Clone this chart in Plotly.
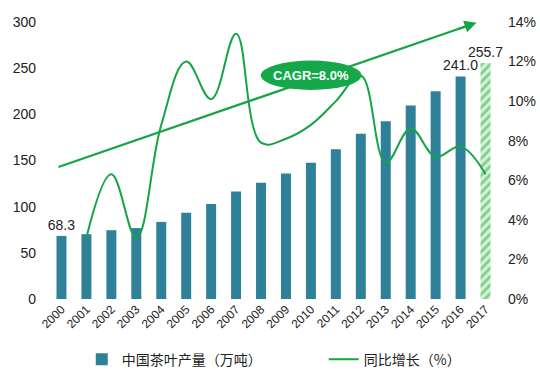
import plotly.graph_objects as go

years = [str(y) for y in range(2000, 2018)]
production = [68.3, 70.2, 74.5, 76.8, 83.5, 93.5, 102.8, 116.5, 125.8, 135.9,
              147.5, 162.3, 179.0, 192.4, 209.6, 224.9, 241.0, 255.7]
growth_years = years[1:]
growth = [3.1, 6.3, 3.1, 8.8, 12.0, 10.1, 13.4, 7.9, 8.1, 8.8, 10.0, 11.3,
          6.9, 8.6, 7.2, 7.7, 6.3]
label_years = {"2000", "2016", "2017"}

BAR = "#2f8199"
GREEN = "#17a446"
FONT = "Liberation Sans, Arial, sans-serif"

fig = go.Figure()

fig.add_trace(go.Bar(
    x=years[:-1], y=production[:-1], name="中国茶叶产量（万吨）", legend="legend",
    marker=dict(color=BAR, line=dict(width=0)), width=0.4,
    text=[f"{v:.1f}" if y in label_years else "" for y, v in zip(years[:-1], production[:-1])],
    textposition="outside", constraintext="none", textangle=0,
    textfont=dict(size=14, color="#222", family=FONT),
    cliponaxis=False,
))
fig.add_trace(go.Bar(
    x=years[-1:], y=production[-1:], showlegend=False,
    marker=dict(color="#c8ecc8", line=dict(width=0),
                pattern=dict(shape="/", fgcolor="#23a84a", bgcolor="#d5f2d5",
                             size=6, solidity=0.45)),
    width=0.4,
    text=[f"{v:.1f}" for v in production[-1:]],
    textposition="outside", constraintext="none", textangle=0,
    textfont=dict(size=14, color="#222", family=FONT),
    cliponaxis=False,
))
fig.add_trace(go.Scatter(
    x=growth_years, y=growth, name="同比增长（%）", yaxis="y2", legend="legend2",
    mode="lines", line=dict(color=GREEN, width=2, shape="spline", smoothing=1.1),
))

# trend arrow (line + arrowhead) and CAGR ellipse
x0t, y0t, x1t, y1t = -0.12, 143, 16.64, 299.3
slope = (y1t - y0t) / (x1t - x0t)
fig.add_shape(type="line", xref="x", yref="y", x0=x0t, y0=y0t, x1=x1t - 0.3, y1=y1t - 0.3 * slope,
              line=dict(color=GREEN, width=2.2), layer="above")
fig.add_shape(type="circle", xref="x", yref="y", x0=7.99, x1=12.03, y0=226.4, y1=258.2,
              fillcolor="#14a84b", line=dict(width=0), layer="above")
fig.add_annotation(x=x1t, y=y1t, ax=x1t - 0.8, ay=y1t - 0.8 * slope, xref="x", yref="y",
                   axref="x", ayref="y", text="", showarrow=True, arrowhead=2,
                   arrowsize=1.1, arrowwidth=2.2, arrowcolor=GREEN)
fig.add_annotation(x=10.01, y=242.3, xref="x", yref="y", text="<b>CAGR=8.0%</b>",
                   showarrow=False, font=dict(size=13, color="white", family=FONT))

legend_font = dict(size=14, color="#222", family="Noto Sans CJK SC")
fig.update_layout(
    width=540, height=389,
    margin=dict(l=48.5, r=41.5, t=22, b=90, autoexpand=False),
    paper_bgcolor="white", plot_bgcolor="white",
    barmode="overlay",
    showlegend=True,
    legend=dict(orientation="h", x=0.073, y=-0.219, xanchor="left", yanchor="middle",
                font=legend_font, itemwidth=30, bgcolor="rgba(0,0,0,0)"),
    legend2=dict(orientation="h", x=0.612, y=-0.219, xanchor="left", yanchor="middle",
                 font=legend_font, itemwidth=30, bgcolor="rgba(0,0,0,0)"),
    xaxis=dict(type="category", range=[-0.5, 17.5], tickangle=-45, showgrid=False,
               automargin=False,
               showline=False, ticks="", tickfont=dict(size=12, color="#222", family=FONT)),
    yaxis=dict(range=[0, 300], dtick=50, showgrid=False, showline=False, zeroline=False,
               automargin=False,
               ticks="", ticklabelstandoff=12, tickfont=dict(size=14, color="#222", family=FONT)),
    yaxis2=dict(overlaying="y", side="right", range=[0, 14], dtick=2, ticksuffix="%",
                automargin=False,
                showgrid=False, showline=False, zeroline=False, ticks="", ticklabelstandoff=9,
                tickfont=dict(size=14, color="#222", family=FONT)),
)

fig.write_html("out.html", config={"displayModeBar": False},
               post_script="document.body.style.margin='0';")
